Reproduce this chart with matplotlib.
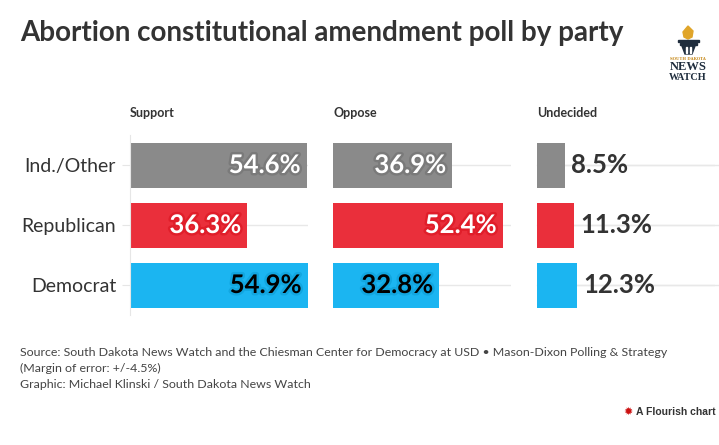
import matplotlib
matplotlib.use("Agg")
import matplotlib.pyplot as plt
import matplotlib.patheffects as pe
from matplotlib.patches import Rectangle, Polygon

parties = ["Ind./Other", "Republican", "Democrat"]
columns = ["Support", "Oppose", "Undecided"]
support = [54.6, 36.3, 54.9]
oppose = [36.9, 52.4, 32.8]
undecided = [8.5, 11.3, 12.3]
values = [support, oppose, undecided]

bar_colors = ["#8a8a8a", "#ea2f3b", "#1bb5f1"]
stroke_colors = ["#7a7a7a", "#e01e2a", "#12a6e0"]
text_colors = ["white", "white", "black"]

W, H = 719, 445
fig = plt.figure(figsize=(W / 100, H / 100), dpi=100)
fig.patch.set_facecolor("white")
plt.rcParams["font.family"] = ["Lato", "DejaVu Sans"]


def px(x, y):
    return x / W, 1 - y / H


fig.text(*px(20, 33), "Abortion constitutional amendment poll by party",
         fontsize=20.0, fontweight="bold", color="#333333", va="center")

panel_left = [130, 333, 537]
panel_w = 178
top, bottom = 135, 315

for k, (col, vals) in enumerate(zip(columns, values)):
    x0 = panel_left[k]
    ax = fig.add_axes([x0 / W, 1 - bottom / H, panel_w / W, (bottom - top) / H])
    ax.set_xlim(0, 55)
    ax.set_ylim(2.5, -0.5)
    ax.set_facecolor("none")
    for s in ["top", "right", "bottom"]:
        ax.spines[s].set_visible(False)
    ax.set_yticks(range(len(parties)))
    if k == 0:
        ax.spines["left"].set_color("#e6e6e6")
        ax.set_yticklabels(parties, fontsize=14, color="#333333")
        ax.tick_params(axis="y", length=6, color="#e6e6e6", pad=4)
    else:
        ax.spines["left"].set_visible(False)
        ax.set_yticklabels([])
        ax.tick_params(axis="y", length=0)
    ax.set_xticks([])
    ax.grid(axis="y", color="#e8e8e8", linewidth=1)
    ax.set_axisbelow(True)
    if k == 2:
        for y in range(len(parties)):
            ax.plot([0, 70], [y, y], color="#e8e8e8", lw=1, zorder=0, clip_on=False)
    ax.barh(range(len(parties)), vals, height=0.75, color=bar_colors, zorder=2)
    for i, v in enumerate(vals):
        lab = f"{v}%"
        if v > 20:
            ax.text(v - 1.8, i, lab, ha="right", va="center", fontsize=18.5,
                    fontweight="bold", color=text_colors[i], zorder=3,
                    path_effects=[pe.withStroke(linewidth=3.5, foreground=stroke_colors[i])])
        else:
            ax.text(v + 2, i, lab, ha="left", va="center", fontsize=18.5,
                    fontweight="bold", color="#333333", zorder=3)
    fig.text(*px(x0, 113), col, fontsize=9, fontweight="bold", color="#333333", va="center")

# footer
foot = ["Source: South Dakota News Watch and the Chiesman Center for Democracy at USD \u2022 Mason-Dixon Polling & Strategy",
        "(Margin of error: +/-4.5%)",
        "Graphic: Michael Klinski / South Dakota News Watch"]
for j, line in enumerate(foot):
    fig.text(*px(20, 352 + j * 16.5), line, fontsize=8.9, color="#444444", va="center")

fl = fig.text(*px(716, 412), "A Flourish chart", fontsize=7.5, color="#333333", ha="right",
              va="center", family=["Liberation Sans", "DejaVu Sans"], fontweight="bold")
fig.canvas.draw()
fl_left = fl.get_window_extent().x0
fig.text((fl_left - 3) / W, 1 - 412 / H, "\u2739", fontsize=8, color="#cc1111",
         va="center", ha="right", family=["DejaVu Sans"])

# logo, drawn in pixel units
lx = fig.add_axes([665 / W, 1 - 85 / H, 46 / W, 65 / H])
lx.set_xlim(665, 711)
lx.set_ylim(85, 20)
lx.axis("off")
gold = "#e0a52a"
navy = "#1f2d3d"
lx.add_patch(Polygon([[688, 26], [693, 31], [692, 37], [688, 39], [684, 37], [683, 32]],
                     color=gold))
lx.add_patch(Polygon([[678, 40], [699, 40], [699, 42], [678, 42]], color=navy))
lx.add_patch(Polygon([[680, 43], [697, 43], [697, 45], [680, 45]], color=navy))
lx.add_patch(Polygon([[682, 46], [695, 46], [692, 54], [685, 54]], color=navy))
lx.add_patch(Rectangle((686, 47), 1, 6, color="white"))
lx.add_patch(Rectangle((690, 47), 1, 6, color="white"))
lx.text(688, 59, "SOUTH DAKOTA", fontsize=2.8, color="#c78a1c", ha="center", va="center",
        family=["DejaVu Serif"], fontweight="bold")
lx.text(688, 67.5, "NEWS", fontsize=9, color=navy, ha="center", va="center",
        family=["Liberation Serif"], fontweight="bold")
lx.text(688, 77.5, "WATCH", fontsize=7.3, color=navy, ha="center", va="center",
        family=["Liberation Serif"], fontweight="bold")

fig.savefig("out.png", dpi=100)
